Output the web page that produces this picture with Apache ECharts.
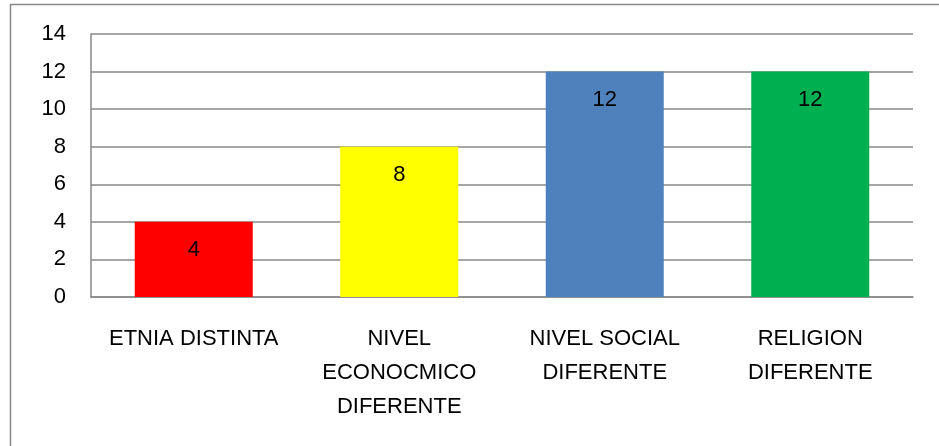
<!DOCTYPE html>
<html>
  <head>
    <meta charset="utf-8">
    <title>Bar chart</title>
    <style>
      html, body { margin: 0; padding: 0; background: #fff; overflow: hidden; }
      #main { width: 939px; height: 446px; }
    </style>
    <script src="https://cdn.jsdelivr.net/npm/echarts@6/dist/echarts.min.js"></script>
  </head>
  <body>
    <div id="main"></div>
    <script type="text/javascript">
      // data
      var categories = ['ETNIA DISTINTA', 'NIVEL\nECONOCMICO\nDIFERENTE', 'NIVEL SOCIAL\nDIFERENTE', 'RELIGION\nDIFERENTE'];
      var values = [4, 8, 12, 12];
      var barColors = ['#FF0000', '#FFFF00', '#4F81BD', '#00B050'];
      var yTicks = [0, 2, 4, 6, 8, 10, 12, 14];

      var font = 'Liberation Sans';
      var gray = '#898989';

      var chart = echarts.init(document.getElementById('main'));

      var option = {
        animation: false,
        // chart area border (runs off the right and bottom edges)
        graphic: [{
          type: 'rect',
          shape: { x: 10.5, y: 4.5, width: 1000, height: 1000 },
          style: { fill: null, stroke: gray, lineWidth: 1.5 },
          silent: true
        }],
        grid: { left: 91, top: 34, right: 26, bottom: 149 },
        xAxis: {
          type: 'category',
          data: categories,
          axisLine: { lineStyle: { color: gray, width: 1.5 } },
          axisTick: { show: false },
          axisLabel: {
            color: '#000', fontFamily: font, fontSize: 22,
            margin: 25, lineHeight: 34, interval: 0
          }
        },
        yAxis: {
          type: 'value',
          min: yTicks[0],
          max: yTicks[yTicks.length - 1],
          interval: 2,
          axisLine: { show: true, lineStyle: { color: gray, width: 1.5 } },
          axisTick: { show: false },
          splitLine: { lineStyle: { color: gray, width: 1.5 } },
          axisLabel: { color: '#000', fontFamily: font, fontSize: 22, margin: 25 }
        },
        series: [{
          type: 'bar',
          barWidth: 118,
          data: values.map(function (v, i) {
            return { value: v, itemStyle: { color: barColors[i] } };
          }),
          label: {
            show: true,
            position: 'insideTop',
            distance: 17,
            color: '#000',
            fontFamily: font,
            fontSize: 22
          }
        }]
      };

      chart.setOption(option);
    </script>
  </body>
</html>
